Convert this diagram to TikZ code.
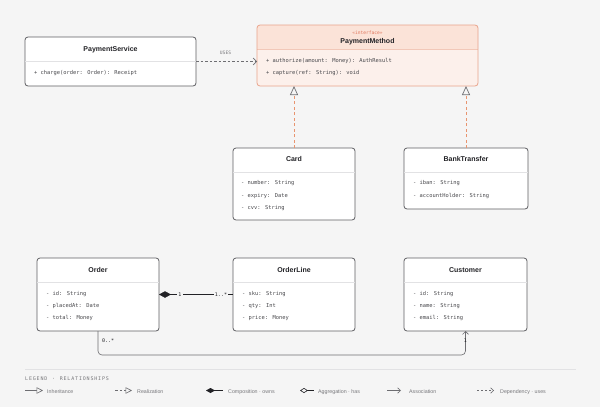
\documentclass[tikz,border=0pt]{standalone}
\usepackage{fontspec}
\setmainfont{Liberation Sans}
\newfontfamily\monof{DejaVu Sans Mono}
\usetikzlibrary{arrows.meta}
\definecolor{bg}{HTML}{F5F5F5}
\definecolor{boxline}{HTML}{5E5E62}
\definecolor{divline}{HTML}{E2E2E4}
\definecolor{titlec}{HTML}{222226}
\definecolor{memc}{HTML}{48484C}
\definecolor{ifhdr}{HTML}{FBE3D8}
\definecolor{ifbody}{HTML}{FCF0EB}
\definecolor{ifline}{HTML}{E9A48C}
\definecolor{ifdiv}{HTML}{F2C8B8}
\definecolor{ster}{HTML}{E0745A}
\definecolor{realc}{HTML}{E8946F}
\definecolor{conn}{HTML}{6E6E72}
\definecolor{legc}{HTML}{77777B}
\begin{document}
\begin{tikzpicture}[x=1pt,y=-1pt,
  classbox/.style={draw=boxline, fill=white, rounded corners=3pt, line width=0.8pt,
    anchor=north west, inner sep=0pt, outer sep=0pt},
  ctitle/.style={font=\bfseries\fontsize{7}{8}\selectfont, text=titlec, inner sep=0pt},
  member/.style={font=\monof\fontsize{5.4}{6}\selectfont, text=memc, anchor=mid west, inner sep=0pt},
  divider/.style={draw=divline, line width=0.6pt},
  deparrow/.style={draw=conn, line width=0.6pt, dash pattern=on 2.5pt off 2pt,
    -{Straight Barb[length=3.5pt,width=7pt,line width=0.6pt]}},
  realarrow/.style={draw=realc, line width=0.7pt, dash pattern=on 3pt off 2.5pt,
    -{Triangle[open,length=9pt,width=8pt,line width=0.7pt,color=conn,fill=bg]}},
  comparrow/.style={draw=titlec, line width=0.6pt, {Diamond[length=12pt,width=6.5pt]}-},
  assocarrow/.style={draw=conn, line width=0.6pt, rounded corners=4pt,
    -{Straight Barb[length=3pt,width=6pt,line width=0.6pt]}},
  mult/.style={font=\monof\fontsize{5}{6}\selectfont, text=titlec, fill=bg, inner sep=1.2pt},
  legtext/.style={font=\fontsize{5.3}{6}\selectfont, text=legc, anchor=mid west, inner sep=0pt},
  legline/.style={draw=conn, line width=0.6pt}
]
% background
\fill[bg] (0,0) rectangle (600,407);
\useasboundingbox (0,0) rectangle (600,407);

% ---------- PaymentService ----------
\node[classbox, minimum width=171pt, minimum height=49pt] (ps) at (25,37) {};
\draw[divider] (25.4,61) -- (195.6,61);
\node[ctitle] (psT) at (110.5,49.3) {PaymentService};
\node[member] (psM1) at (34,72) {+ charge(order: Order): Receipt};

% ---------- PaymentMethod (interface) ----------
\node[classbox, fill=ifbody, draw=none, minimum width=221pt, minimum height=61pt] (pm) at (257,25) {};
\fill[ifhdr] (257,49) -- (257,28) arc[start angle=180,end angle=90,radius=3pt]
  -- (475,25) arc[start angle=90,end angle=0,radius=3pt] -- (478,49) -- cycle;
\draw[ifdiv, line width=0.6pt] (257.4,49) -- (477.6,49);
\draw[ifline, line width=0.8pt, rounded corners=3pt] (257,25) rectangle (478,86);
\node[font=\monof\fontsize{4.6}{5}\selectfont, text=ster, inner sep=0pt] (pmS) at (367.5,33) {«interface»};
\node[ctitle] (pmT) at (367.5,41.7) {PaymentMethod};
\node[member] (pmM1) at (266,59.5) {+ authorize(amount: Money): AuthResult};
\node[member] (pmM2) at (266,72.3) {+ capture(ref: String): void};

% ---------- Card ----------
\node[classbox, minimum width=122pt, minimum height=72pt] (card) at (233,148) {};
\draw[divider] (233.4,172) -- (354.6,172);
\node[ctitle] (cardT) at (294,159.3) {Card};
\node[member] (cardM1) at (241,182.3) {- number: String};
\node[member] (cardM2) at (241,194.5) {- expiry: Date};
\node[member] (cardM3) at (241,206.7) {- cvv: String};

% ---------- BankTransfer ----------
\node[classbox, minimum width=124pt, minimum height=61pt] (bt) at (404,148) {};
\draw[divider] (404.4,172) -- (527.6,172);
\node[ctitle] (btT) at (466,159.3) {BankTransfer};
\node[member] (btM1) at (413,182.3) {- iban: String};
\node[member] (btM2) at (413,194.5) {- accountHolder: String};

% ---------- Order ----------
\node[classbox, minimum width=122pt, minimum height=73pt] (order) at (37,258) {};
\draw[divider] (37.4,282) -- (158.6,282);
\node[ctitle] (orderT) at (98,270) {Order};
\node[member] (orderM1) at (46,292.7) {- id: String};
\node[member] (orderM2) at (46,304.8) {- placedAt: Date};
\node[member] (orderM3) at (46,317) {- total: Money};

% ---------- OrderLine ----------
\node[classbox, minimum width=122pt, minimum height=73pt] (ol) at (233,258) {};
\draw[divider] (233.4,282) -- (354.6,282);
\node[ctitle] (olT) at (294,270) {OrderLine};
\node[member] (olM1) at (242,292.7) {- sku: String};
\node[member] (olM2) at (242,304.8) {- qty: Int};
\node[member] (olM3) at (242,317) {- price: Money};

% ---------- Customer ----------
\node[classbox, minimum width=123pt, minimum height=73pt] (cust) at (404,258) {};
\draw[divider] (404.4,282) -- (526.6,282);
\node[ctitle] (custT) at (465.5,270) {Customer};
\node[member] (custM1) at (413,292.7) {- id: String};
\node[member] (custM2) at (413,304.8) {- name: String};
\node[member] (custM3) at (413,317) {- email: String};

% ---------- Connectors ----------
% dependency
\draw[deparrow] (ps.east) -- (ps.east -| pm.west);
\node[font=\monof\fontsize{4.6}{5}\selectfont, text=legc, inner sep=0pt] (usesL) at (225.5,53) {USES};
% realizations
\draw[realarrow] (card.north) -- (card.north |- pm.south);
\draw[realarrow] (bt.north) -- (bt.north |- pm.south);
% composition
\draw[comparrow] (order.east) -- (ol.west);
\node[mult] (cm1) at (180,294.5) {1};
\node[mult] (cm2) at (221,294.5) {1..*};
% association
\draw[assocarrow] (order.south) -- ++(0,24) -| (cust.south);
\node[font=\monof\fontsize{5}{6}\selectfont, text=titlec, anchor=mid west, inner sep=0pt] (am1) at (102,340) {0..*};
\node[font=\monof\fontsize{5}{6}\selectfont, text=titlec, inner sep=0pt] (am2) at (465.5,340.5) {1};

% ---------- Legend ----------
\draw[draw=divline, line width=0.7pt] (25,369.5) -- (576,369.5);
\node[font=\monof\fontsize{5}{6}\selectfont, text=legc, anchor=mid west, inner sep=0pt] (legT) at (25,378)
  {L\,E\,G\,E\,N\,D\, \,·\, \,R\,E\,L\,A\,T\,I\,O\,N\,S\,H\,I\,P\,S};
% inheritance
\coordinate (i1) at (25,390.5); \coordinate (i2) at (43,390.5);
\draw[legline, -{Triangle[open,length=6.5pt,width=6.5pt,line width=0.6pt,fill=bg]}] (i1) -- (i2);
\node[legtext] (iT) at (47,390.5) {Inheritance};
% realization
\coordinate (r1) at (115,390.5); \coordinate (r2) at (132,390.5);
\draw[legline, dash pattern=on 2.5pt off 2pt, -{Triangle[open,length=6.5pt,width=6.5pt,line width=0.6pt,fill=bg]}] (r1) -- (r2);
\node[legtext] (rT) at (137,390.5) {Realization};
% composition
\coordinate (c1) at (206,390.5); \coordinate (c2) at (223,390.5);
\draw[legline, draw=titlec, {Diamond[length=9pt,width=5pt]}-] (c1) -- (c2);
\node[legtext] (cT) at (228,390.5) {Composition · owns};
% aggregation
\coordinate (a1) at (300,390.5); \coordinate (a2) at (314,390.5);
\draw[legline, draw=titlec, {Diamond[open,length=8pt,width=5pt,fill=bg]}-] (a1) -- (a2);
\node[legtext] (aT) at (318,390.5) {Aggregation · has};
% association
\coordinate (s1) at (387,390.5); \coordinate (s2) at (401,390.5);
\draw[legline, -{Straight Barb[length=3pt,width=5.5pt,line width=0.6pt]}] (s1) -- (s2);
\node[legtext] (sT) at (409,390.5) {Association};
% dependency
\coordinate (d1) at (477,390.5); \coordinate (d2) at (494,390.5);
\draw[legline, dash pattern=on 2pt off 2pt, -{Straight Barb[length=3pt,width=5.5pt,line width=0.6pt]}] (d1) -- (d2);
\node[legtext] (dT) at (500,390.5) {Dependency · uses};
\end{tikzpicture}
\end{document}
